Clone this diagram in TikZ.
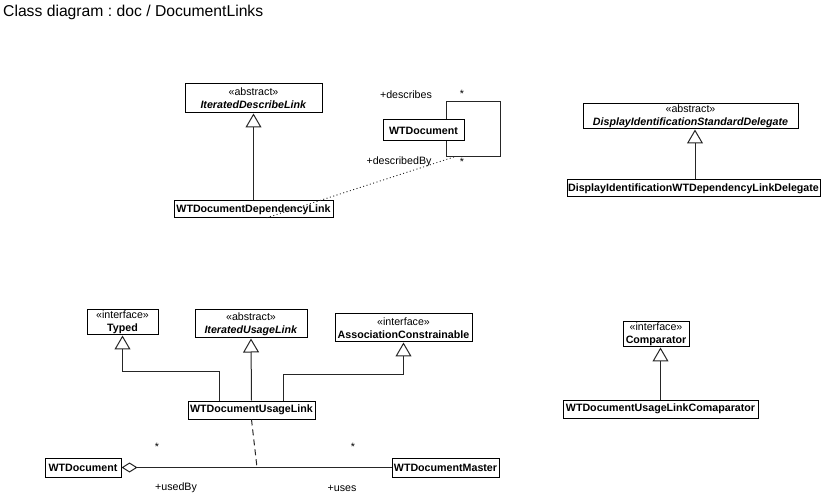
\documentclass[tikz,border=0pt]{standalone}
\usepackage{fontspec}
\setmainfont{Liberation Sans}
\usetikzlibrary{arrows.meta}
\frenchspacing

\tikzset{
  cls/.style={draw=black, line width=1pt, fill=white, inner sep=0pt, align=center,
    font=\fontsize{10.67}{13}\selectfont},
  lbl/.style={inner sep=0pt, font=\fontsize{10.67}{13}\selectfont},
  conn/.style={draw=black!85, line width=1pt},
  gen/.style={conn, -{Triangle[open, width=16pt, length=14pt, fill=white]}},
  agg/.style={conn, {Diamond[open, width=10pt, length=16pt, fill=white]}-},
  assocdash/.style={conn, dash pattern=on 6pt off 4pt},
  assocdot/.style={conn, line width=0.9pt, dash pattern=on 1pt off 2.5pt},
}
\newcommand{\stereo}[1]{{\fontsize{10.67}{13}\selectfont #1}}
\newcommand{\clsname}[1]{\textbf{#1}}
\newcommand{\absname}[1]{\textbf{\textit{#1}}}

\begin{document}
\begin{tikzpicture}[x=1pt, y=-1pt]
  \useasboundingbox (0,0) rectangle (825,494);

  % title
  \node[anchor=base west, inner sep=0pt, font=\fontsize{15.7}{18}\selectfont] (title) at (3,17)
    {Class diagram : doc / DocumentLinks};

  % ---- dependency link group ----
  \node[cls, minimum width=137pt, minimum height=29pt] (idl) at (253.5,98.5)
    {\stereo{«abstract»}\\\absname{IteratedDescribeLink}};
  \node[cls, minimum width=159pt, minimum height=17pt] (dep) at (253.5,209.5)
    {\clsname{WTDocumentDependencyLink}};
  \node[cls, minimum width=81pt, minimum height=21pt] (doc1) at (423.5,130.5)
    {\clsname{WTDocument}};

  \draw[gen] (dep.north) -- (idl.south);

  % self association on WTDocument
  \coordinate (lpa) at (446,102);
  \coordinate (lpb) at (500,102);
  \coordinate (lpc) at (500,157);
  \coordinate (lpd) at (446,157);
  \draw[conn] (doc1.north -| lpa) -- (lpa) -- (lpb) -- (lpc) -- (lpd) -- (doc1.south -| lpd);
  \coordinate (lpmid) at (454,157);
  \coordinate (depend) at (266,218);
  \draw[assocdot] (lpmid) -- (depend);

  \node[lbl] (ldescribes) at (406,95) {+describes};
  \node[lbl] (lstar1) at (462,94) {*};
  \node[lbl] (ldescribedby) at (399,162) {+describedBy};
  \node[lbl] (lstar2) at (462,162) {*};

  % ---- display delegate ----
  \node[cls, minimum width=215pt, minimum height=25pt] (disp) at (690.5,116.5)
    {\stereo{«abstract»}\\\absname{DisplayIdentificationStandardDelegate}};
  \node[cls, minimum width=253pt, minimum height=17pt] (dispwt) at (693.5,188.5)
    {\clsname{DisplayIdentificationWTDependencyLinkDelegate}};
  \draw[gen] (dispwt.north -| 695,0) -- (disp.south -| 695,0);

  % ---- usage link group ----
  \node[cls, minimum width=71pt, minimum height=25pt] (typed) at (122.5,322.5)
    {\stereo{«interface»}\\\clsname{Typed}};
  \node[cls, minimum width=112pt, minimum height=28pt] (iul) at (251,324)
    {\stereo{«abstract»}\\\absname{IteratedUsageLink}};
  \node[cls, minimum width=137pt, minimum height=28pt] (ac) at (403.5,328)
    {\stereo{«interface»}\\\clsname{AssociationConstrainable}};
  \node[cls, minimum width=127pt, minimum height=18pt] (usage) at (251.5,410)
    {\clsname{WTDocumentUsageLink}};

  \draw[gen] (usage.north -| 219,0) -- (219,372) -| (typed.south);
  \draw[gen] (usage.north) -- (iul.south);
  \draw[gen] (usage.north -| 283,0) -- (283,375) -| (ac.south);

  \node[cls, minimum width=76pt, minimum height=19pt] (doc2) at (83,467.5)
    {\clsname{WTDocument}};
  \node[cls, minimum width=107pt, minimum height=19pt] (master) at (445.5,467.5)
    {\clsname{WTDocumentMaster}};
  \draw[agg] (doc2.east) -- (master.west);
  \coordinate (usemid) at (257,467.5);
  \draw[assocdash] (usage.south) -- (usemid);

  \node[lbl] (lstar3) at (157,447) {*};
  \node[lbl] (lstar4) at (353,447) {*};
  \node[lbl] (lusedby) at (176,488) {+usedBy};
  \node[lbl] (luses) at (342,488) {+uses};

  % ---- comparator ----
  \node[cls, minimum width=66pt, minimum height=25pt] (cmp) at (656,334.5)
    {\stereo{«interface»}\\\clsname{Comparator}};
  \node[cls, minimum width=195pt, minimum height=18pt] (cmpl) at (660.5,409)
    {\clsname{WTDocumentUsageLinkComaparator}};
  \draw[gen] (cmpl.north) -- (cmpl.north |- cmp.south);
\end{tikzpicture}
\end{document}
